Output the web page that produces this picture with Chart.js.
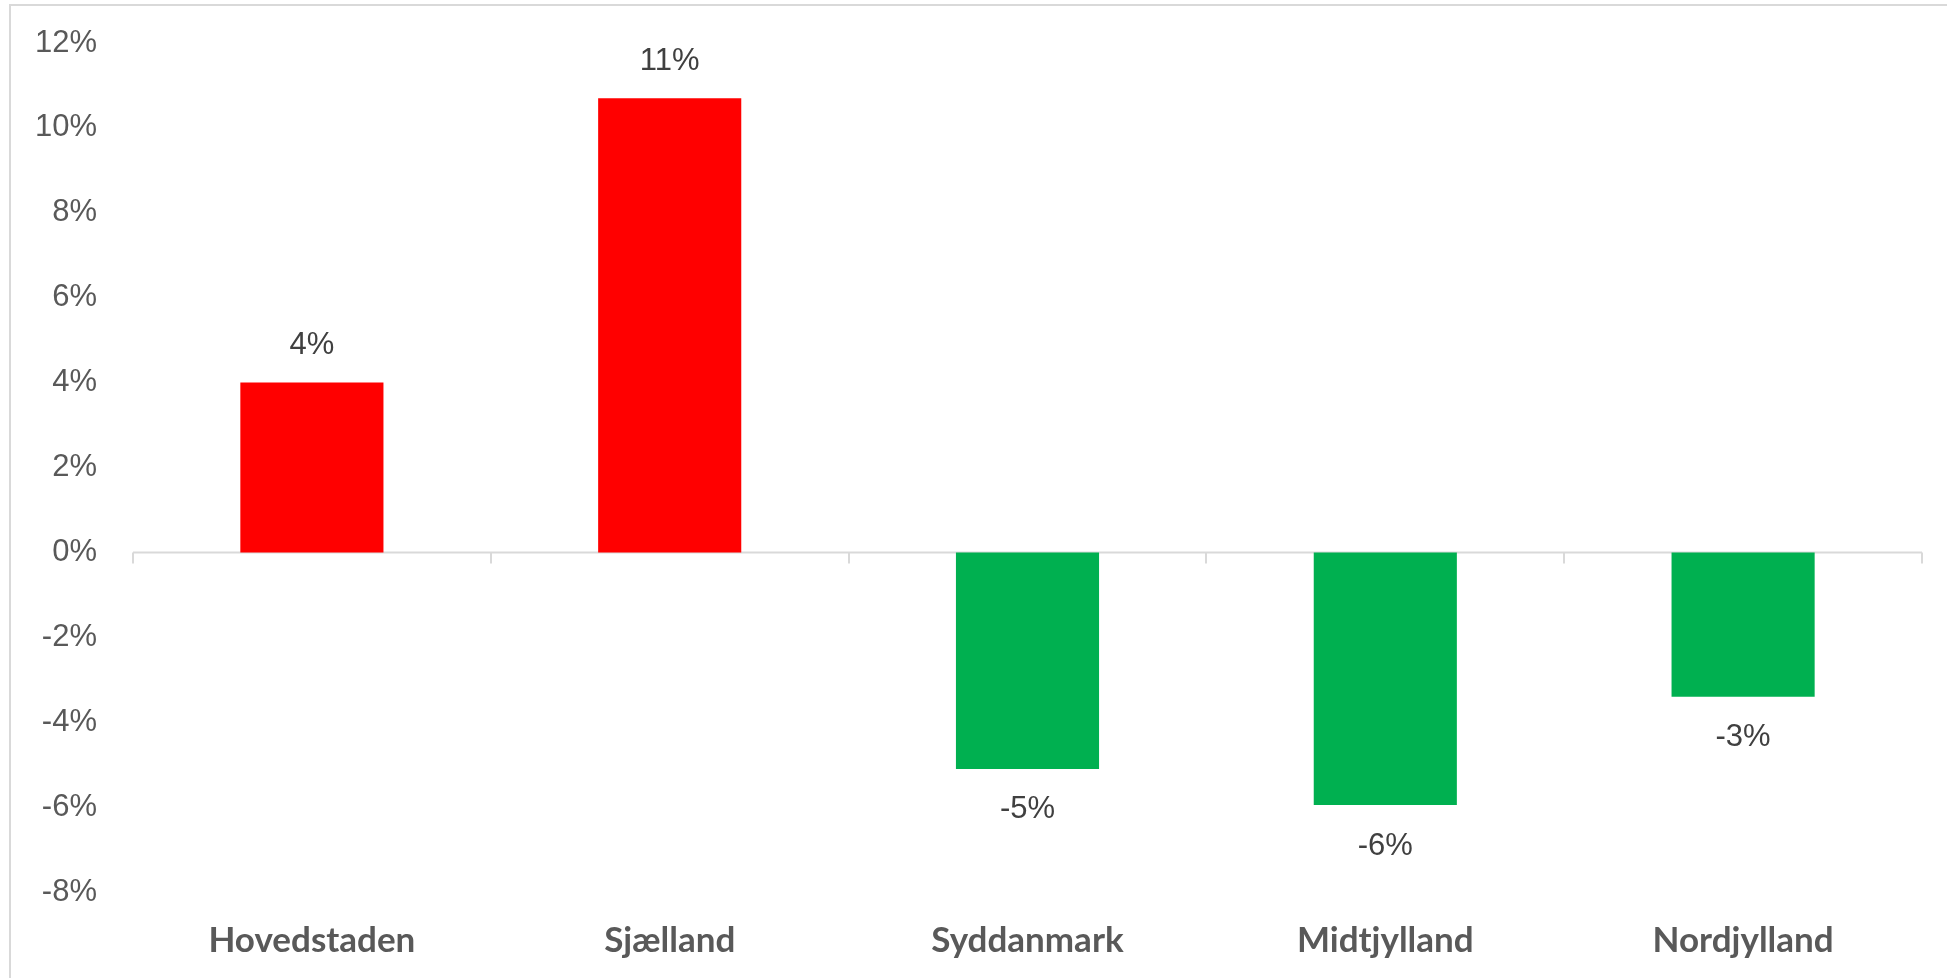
<!DOCTYPE html>
<html>
<head>
<meta charset="utf-8">
<script src="https://cdn.jsdelivr.net/npm/chart.js@4/dist/chart.umd.min.js"></script>
<style>
  html, body { margin: 0; padding: 0; background: #fff; overflow: hidden; }
  #frame {
    position: absolute; left: 9px; top: 4px; width: 2000px; height: 1000px;
    border-top: 2px solid #d9d9d9; border-left: 2px solid #d9d9d9;
  }
  #chart { position: absolute; left: 0; top: 0; }
</style>
</head>
<body>
<div id="frame"></div>
<canvas id="chart" width="1947" height="978"></canvas>
<script>
const regions = ['Hovedstaden', 'Sjælland', 'Syddanmark', 'Midtjylland', 'Nordjylland'];
const change = [4.0, 10.7, -5.1, -5.95, -3.4];
const barColors = change.map(v => v >= 0 ? '#ff0000' : '#00b050');

const yMin = -8, yMax = 12, yStep = 2;

// zero line with small ticks between the categories
const zeroAxis = {
  id: 'zeroAxis',
  beforeDatasetsDraw(chart) {
    const {ctx, chartArea} = chart;
    const y0 = chart.scales.y.getPixelForValue(0);
    const n = regions.length;
    const w = (chartArea.right - chartArea.left) / n;
    ctx.save();
    ctx.strokeStyle = '#d9d9d9';
    ctx.lineWidth = 2;
    ctx.beginPath();
    ctx.moveTo(chartArea.left, y0);
    ctx.lineTo(chartArea.right, y0);
    for (let i = 0; i <= n; i++) {
      const x = Math.round(chartArea.left + i * w);
      ctx.moveTo(x, y0);
      ctx.lineTo(x, y0 + 11);
    }
    ctx.stroke();
    ctx.restore();
  }
};

const barLabels = {
  id: 'barLabels',
  afterDatasetsDraw(chart) {
    const {ctx} = chart;
    const meta = chart.getDatasetMeta(0);
    ctx.save();
    ctx.font = '31px "Liberation Sans", Arial, sans-serif';
    ctx.fillStyle = '#404040';
    ctx.textAlign = 'center';
    ctx.textBaseline = 'middle';
    meta.data.forEach((bar, i) => {
      const v = change[i];
      const y = v >= 0 ? bar.y - 37 : bar.y + 41;
      ctx.fillText(Math.round(v) + '%', bar.x, y);
    });
    ctx.restore();
  }
};

new Chart(document.getElementById('chart').getContext('2d'), {
  type: 'bar',
  data: {
    labels: regions,
    datasets: [{
      data: change,
      backgroundColor: barColors,
      borderWidth: 0,
      categoryPercentage: 1,
      barPercentage: 0.4
    }]
  },
  options: {
    responsive: false,
    animation: false,
    layout: { padding: { top: 43, right: 25, bottom: 0, left: 0 } },
    plugins: { legend: { display: false }, tooltip: { enabled: false } },
    scales: {
      x: {
        grid: { display: false },
        border: { display: false },
        ticks: {
          color: '#595959',
          padding: 20,
          font: { family: 'Lato', size: 35, weight: 'bold' }
        },
        afterFit(scale) { scale.height = 86; }
      },
      y: {
        min: yMin,
        max: yMax,
        grid: { display: false, drawTicks: false },
        border: { display: false },
        ticks: {
          stepSize: yStep,
          color: '#595959',
          padding: 36,
          font: { family: '"Liberation Sans", Arial, sans-serif', size: 31 },
          callback: v => v + '%'
        },
        afterFit(scale) {
          scale.width = 133;
          // tick padding would otherwise push the plot down
          scale.paddingTop = 0;
          scale.paddingBottom = 0;
        }
      }
    }
  },
  plugins: [zeroAxis, barLabels]
});
</script>
</body>
</html>
